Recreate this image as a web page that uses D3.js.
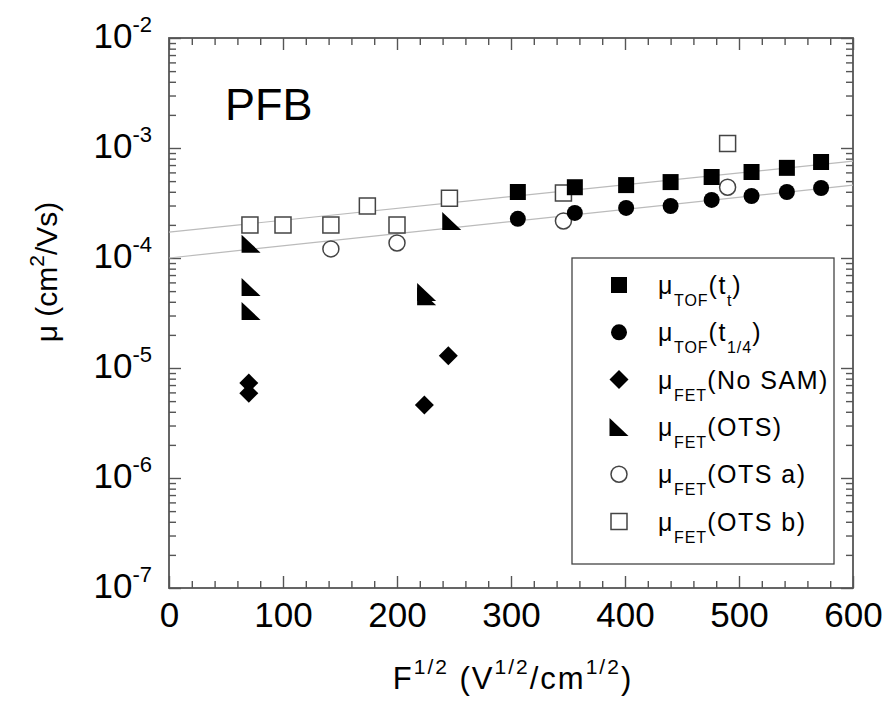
<!DOCTYPE html>
<html>
<head>
<meta charset="utf-8">
<script src="https://cdn.jsdelivr.net/npm/d3@7"></script>
<style>
  body { margin: 0; background: #fff; }
  text { font-family: "Liberation Sans", Arial, Helvetica, sans-serif; fill: #000; }
</style>
</head>
<body>
<div id="chart"></div>
<script>
// tamaño de la figura
var width = 889;
var height = 707;

// datos: [F^1/2, mu]
var tofTt = [[306, 3.98e-4], [356, 4.4e-4], [401, 4.6e-4], [440, 4.9e-4], [476, 5.45e-4], [511, 6.05e-4], [542, 6.6e-4], [572, 7.46e-4]];
var tofT14 = [[306, 2.27e-4], [356, 2.57e-4], [401, 2.85e-4], [440, 2.97e-4], [476, 3.37e-4], [511, 3.66e-4], [542, 3.98e-4], [572, 4.33e-4]];
var fetNoSam = [[70, 7.3e-6], [70, 5.9e-6], [224, 4.6e-6], [245, 1.29e-5]];
var fetOts = [[72, 1.35e-4], [72, 5.45e-5], [72, 3.3e-5], [226, 4.9e-5], [226, 4.5e-5], [248, 2.17e-4]];
var fetOtsA = [[142, 1.21e-4], [200, 1.37e-4], [346, 2.17e-4], [490, 4.4e-4]];
var fetOtsB = [[71, 2.0e-4], [100, 2.0e-4], [142, 2.0e-4], [174, 2.97e-4], [200, 2.0e-4], [246, 3.5e-4], [346, 3.9e-4], [490, 1.1e-3]];

// rectas de ajuste (extremos)
var fitUpper = [[0, 1.72e-4], [600, 7.6e-4]];
var fitLower = [[0, 1.0e-4], [600, 4.6e-4]];

// ticks
var xMajor = [0, 100, 200, 300, 400, 500, 600];
var xMinor = [20, 40, 60, 80, 120, 140, 160, 180, 220, 240, 260, 280, 320, 340, 360, 380, 420, 440, 460, 480, 520, 540, 560, 580];
var yExponents = [-7, -6, -5, -4, -3, -2];
var yMinorFactors = [2, 3, 4, 5, 6, 7, 8, 9];

// leyenda
var legendLabels = [
  [["μ", "m"], ["TOF", "s"], ["(t", "m"], ["t", "s"], [")", "m"]],
  [["μ", "m"], ["TOF", "s"], ["(t", "m"], ["1/4", "s"], [")", "m"]],
  [["μ", "m"], ["FET", "s"], ["(No SAM)", "m"]],
  [["μ", "m"], ["FET", "s"], ["(OTS)", "m"]],
  [["μ", "m"], ["FET", "s"], ["(OTS a)", "m"]],
  [["μ", "m"], ["FET", "s"], ["(OTS b)", "m"]]
];
var legendShapes = ["square", "circle", "diamond", "triangle", "circle", "square"];
var legendFilled = [true, true, true, true, false, false];

var svg = d3.select("#chart")
  .append("svg")
  .attr("width", width)
  .attr("height", height);

var x = d3.scaleLinear().domain([0, 600]).range([169, 853]);
var y = d3.scaleLog().domain([1e-7, 1e-2]).range([588, 38]);

var yMajor = yExponents.map(function(e) { return Math.pow(10, e); });
var yMinor = [];
yExponents.slice(0, -1).forEach(function(e) {
  yMinorFactors.forEach(function(f) { yMinor.push(f * Math.pow(10, e)); });
});

var axisColor = "#555";

// ejes con ticks hacia dentro en los cuatro lados
function styleAxis(g) {
  g.select(".domain").remove();
  g.selectAll("line").attr("stroke", axisColor).attr("stroke-width", 1.4);
}

svg.append("g").attr("transform", "translate(0,588)")
  .call(d3.axisBottom(x).tickValues(xMinor).tickSize(-7).tickFormat(""))
  .call(styleAxis);
svg.append("g").attr("transform", "translate(0,588)")
  .call(d3.axisBottom(x).tickValues(xMajor).tickSize(-12).tickSizeOuter(0).tickPadding(14))
  .call(styleAxis)
  .call(function(g) {
    g.selectAll("text").attr("font-size", 35).attr("fill", "#000")
      .style("font-family", "Liberation Sans, Arial, sans-serif");
  });
svg.append("g").attr("transform", "translate(0,38)")
  .call(d3.axisTop(x).tickValues(xMinor).tickSize(-7).tickFormat(""))
  .call(styleAxis);
svg.append("g").attr("transform", "translate(0,38)")
  .call(d3.axisTop(x).tickValues(xMajor).tickSize(-12).tickFormat(""))
  .call(styleAxis);

svg.append("g").attr("transform", "translate(169,0)")
  .call(d3.axisLeft(y).tickValues(yMinor).tickSize(-7).tickFormat(""))
  .call(styleAxis);
var yLeft = svg.append("g").attr("transform", "translate(169,0)")
  .call(d3.axisLeft(y).tickValues(yMajor).tickSize(-12).tickFormat(""))
  .call(styleAxis);
svg.append("g").attr("transform", "translate(853,0)")
  .call(d3.axisRight(y).tickValues(yMinor).tickSize(-7).tickFormat(""))
  .call(styleAxis);
svg.append("g").attr("transform", "translate(853,0)")
  .call(d3.axisRight(y).tickValues(yMajor).tickSize(-12).tickFormat(""))
  .call(styleAxis);

// etiquetas 10^n
yLeft.selectAll(".tick").each(function(d) {
  var t = d3.select(this).append("text")
    .attr("x", -17)
    .attr("y", 9)
    .attr("text-anchor", "end")
    .attr("font-size", 35);
  t.append("tspan").text("10");
  t.append("tspan").attr("font-size", 22).attr("dy", -16)
    .text(String(Math.round(Math.log10(d))));
});

// marco
svg.append("rect")
  .attr("x", 169).attr("y", 38)
  .attr("width", 853 - 169).attr("height", 588 - 38)
  .attr("fill", "none")
  .attr("stroke", axisColor)
  .attr("stroke-width", 1.8);

// rectas de ajuste
var line = d3.line()
  .x(function(d) { return x(d[0]); })
  .y(function(d) { return y(d[1]); });

[fitUpper, fitLower].forEach(function(f) {
  svg.append("path")
    .attr("d", line(f))
    .attr("fill", "none")
    .attr("stroke", "#bbb")
    .attr("stroke-width", 1.2);
});

// formas de los marcadores
function shapePath(type) {
  if (type == "square") return "M-8,-8H8V8H-8Z";
  if (type == "circle") return d3.symbol().type(d3.symbolCircle).size(Math.PI * 64)();
  if (type == "diamond") return "M0,-9.5L9.5,0L0,9.5L-9.5,0Z";
  if (type == "triangle") return "M-9.5,-9L-9.5,9L9.5,9Z";
}

function drawSeries(data, type, filled) {
  svg.append("g").selectAll("path")
    .data(data)
    .enter()
    .append("path")
    .attr("transform", function(d) { return "translate(" + x(d[0]) + "," + y(d[1]) + ")"; })
    .attr("d", shapePath(type))
    .attr("fill", filled ? "#000" : "#fff")
    .attr("stroke", filled ? "none" : "#444")
    .attr("stroke-width", 1.5);
}

drawSeries(fetOtsB, "square", false);
drawSeries(fetOtsA, "circle", false);
drawSeries(fetNoSam, "diamond", true);
drawSeries(fetOts, "triangle", true);
drawSeries(tofT14, "circle", true);
drawSeries(tofTt, "square", true);

// etiqueta PFB
svg.append("text")
  .attr("x", 225).attr("y", 120)
  .attr("font-size", 45)
  .text("PFB");

// leyenda
svg.append("rect")
  .attr("x", 572).attr("y", 258)
  .attr("width", 262).attr("height", 306)
  .attr("fill", "#fff")
  .attr("stroke", "#444")
  .attr("stroke-width", 1.3);

legendLabels.forEach(function(parts, i) {
  var cy = 285 + i * 47.3;
  svg.append("path")
    .attr("transform", "translate(619," + cy + ")")
    .attr("d", shapePath(legendShapes[i]))
    .attr("fill", legendFilled[i] ? "#000" : "#fff")
    .attr("stroke", legendFilled[i] ? "none" : "#444")
    .attr("stroke-width", 1.5);

  var t = svg.append("text")
    .attr("x", 658).attr("y", cy + 9)
    .attr("font-size", 25)
    .attr("letter-spacing", 1.5);
  var prev = "m";
  parts.forEach(function(p) {
    var ts = t.append("tspan").text(p[0]);
    if (p[1] == "s") {
      ts.attr("font-size", 16).attr("letter-spacing", 1);
      if (prev == "m") ts.attr("dy", 12);
    } else if (prev == "s") {
      ts.attr("dy", -12);
    }
    prev = p[1];
  });
});

// titulos de ejes
var xt = svg.append("text")
  .attr("x", 513).attr("y", 689)
  .attr("text-anchor", "middle")
  .attr("font-size", 31)
  .attr("letter-spacing", 2);
xt.append("tspan").text("F");
xt.append("tspan").attr("font-size", 21).attr("dy", -15).text("1/2");
xt.append("tspan").attr("dy", 15).text(" (V");
xt.append("tspan").attr("font-size", 21).attr("dy", -15).text("1/2");
xt.append("tspan").attr("dy", 15).text("/cm");
xt.append("tspan").attr("font-size", 21).attr("dy", -15).text("1/2");
xt.append("tspan").attr("dy", 15).text(")");

var yt = svg.append("text")
  .attr("transform", "translate(57,272) rotate(-90)")
  .attr("text-anchor", "middle")
  .attr("font-size", 30);
yt.append("tspan").text("μ (cm");
yt.append("tspan").attr("font-size", 21).attr("dy", -13).text("2");
yt.append("tspan").attr("dy", 13).text("/Vs)");
</script>
</body>
</html>
